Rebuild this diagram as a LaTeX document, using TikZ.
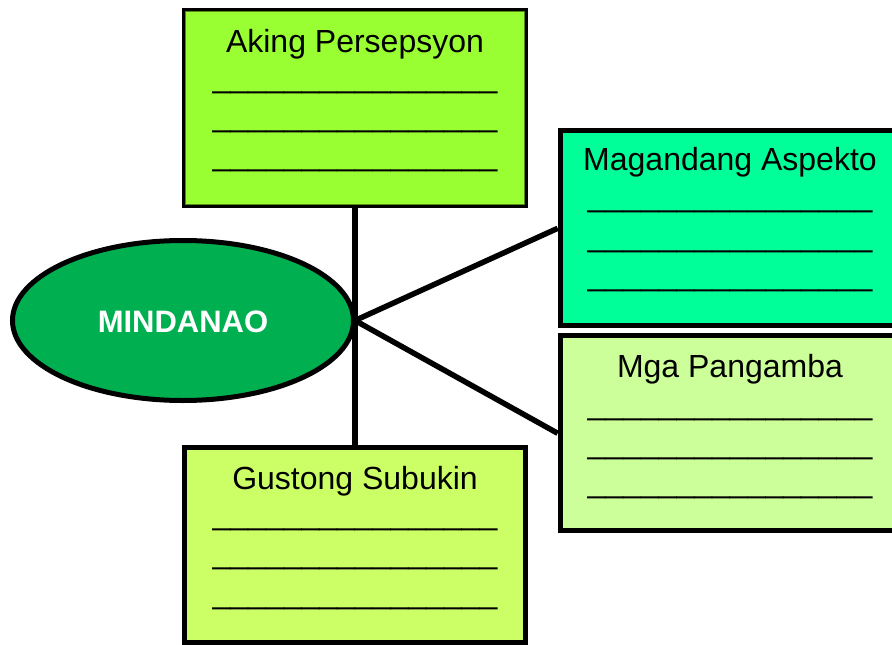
\documentclass[tikz,border=0pt]{standalone}
\usepackage{fontspec}
\setmainfont{Liberation Sans}
\usetikzlibrary{shapes.geometric}
\definecolor{cTop}{HTML}{99FF33}
\definecolor{cTopIn}{HTML}{4E8C16}
\definecolor{cMag}{HTML}{00FF99}
\definecolor{cMga}{HTML}{CCFF99}
\definecolor{cBot}{HTML}{CCFF66}
\definecolor{cEll}{HTML}{00B050}
\tikzset{
  boxnode/.style={draw=black, line width=5pt, rectangle, minimum width=341pt, minimum height=195pt, inner sep=0pt},
  txt/.style={anchor=base, inner sep=0pt, font=\fontsize{32}{38}\selectfont},
  conn/.style={draw=black, line width=5.5pt},
}
\newcommand{\blankline}{\_\_\_\_\_\_\_\_\_\_\_\_\_\_\_\_}
\begin{document}
\begin{tikzpicture}[x=1pt,y=-1pt]
\useasboundingbox (0,0) rectangle (892,645);
\clip (0,0) rectangle (892,645);
\fill[white] (0,0) rectangle (892,645);
% boxes
\node[boxnode, fill=cTop, line width=4pt, minimum width=342pt, minimum height=196pt] (top) at (355,108) {};
\draw[cTopIn, line width=1pt] ([shift={(3.5pt,3.5pt)}]top.south west) rectangle ([shift={(-3.5pt,-3.5pt)}]top.north east);
\node[boxnode, fill=cMag] (mag) at (730.7,228.3) {};
\node[boxnode, fill=cMga] (mga) at (730.7,433.3) {};
\node[boxnode, fill=cBot] (bot) at (355,544.5) {};
% ellipse
\node[ellipse, draw=black, line width=5pt, fill=cEll, minimum width=341pt, minimum height=160pt, inner sep=0pt] (mind) at (183,320.5) {};
% connectors
\coordinate (hub) at (top.south |- mind.east);
\draw[conn] (top.south) -- (bot.north);
\draw[conn] (hub) -- (mag.west);
\draw[conn] (hub) -- (mga.west);
% texts
\node[txt, text=white, font=\fontsize{31}{37}\selectfont\bfseries] (mindt) at (183,332) {MINDANAO};
\node[txt] (topt) at (355,52) {Aking Persepsyon};
\node[txt] (topl1) at (355,87) {\blankline};
\node[txt] (topl2) at (355,126) {\blankline};
\node[txt] (topl3) at (355,165) {\blankline};
\node[txt] (magt) at (730,170) {Magandang Aspekto};
\node[txt] (magl1) at (730,206) {\blankline};
\node[txt] (magl2) at (730,246) {\blankline};
\node[txt] (magl3) at (730,285) {\blankline};
\node[txt] (mgat) at (730,377) {Mga Pangamba};
\node[txt] (mgal1) at (730,414) {\blankline};
\node[txt] (mgal2) at (730,453) {\blankline};
\node[txt] (mgal3) at (730,492) {\blankline};
\node[txt] (bott) at (355,489) {Gustong Subukin};
\node[txt] (botl1) at (355,524) {\blankline};
\node[txt] (botl2) at (355,563) {\blankline};
\node[txt] (botl3) at (355,603) {\blankline};
\end{tikzpicture}
\end{document}
